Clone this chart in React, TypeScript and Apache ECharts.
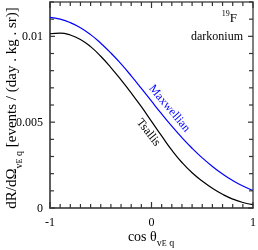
import React, { useEffect, useRef } from "react";
import * as echarts from "echarts";

const cosTheta = [-1, -0.9, -0.8, -0.7, -0.6, -0.5, -0.4, -0.3, -0.2, -0.1, 0, 0.1, 0.2, 0.3, 0.4, 0.5, 0.6, 0.7, 0.8, 0.9, 1];
const maxwellian = [0.0111, 0.011, 0.0108, 0.0105, 0.0101, 0.0096, 0.00903, 0.00839, 0.0077, 0.00697, 0.00622, 0.00548, 0.00477, 0.0041, 0.00348, 0.00292, 0.00242, 0.00198, 0.0016, 0.00128, 0.00102];
const tsallis = [0.01015, 0.01019, 0.01008, 0.00982, 0.0094, 0.00884, 0.00818, 0.00746, 0.0067, 0.0059, 0.00505, 0.0042, 0.00337, 0.00265, 0.00205, 0.00157, 0.00115, 0.0008, 0.00052, 0.00032, 0.0002];
const xTickLabels = [-1, 0, 1];
const yTickLabels = [0, 0.005, 0.01];
const xMin = -1, xMax = 1, yMin = 0, yMax = 0.012;
const xTicks = Array.from({ length: 21 }, (_, i) => Math.round((-1 + i * 0.1) * 10) / 10);
const yTicks = Array.from({ length: 13 }, (_, i) => i / 1000);

const SERIF = "'Liberation Serif', 'DejaVu Serif', serif";
const AXIS_COLOR = "#555";
const TICK_COLOR = "#333";

const richY = {
  m: { fontSize: 15, fontFamily: SERIF, fill: "#000", lineHeight: 24, verticalAlign: "middle" as const },
  s: { fontSize: 10, fontFamily: SERIF, fill: "#000", lineHeight: 14, verticalAlign: "bottom" as const },
  ss: { fontSize: 8, fontFamily: SERIF, fill: "#000", lineHeight: 9, verticalAlign: "bottom" as const },
};
const richX = {
  m: { fontSize: 14, fontFamily: SERIF, fill: "#000", lineHeight: 22, verticalAlign: "middle" as const },
  s: { fontSize: 10, fontFamily: SERIF, fill: "#000", lineHeight: 13, verticalAlign: "bottom" as const },
  ss: { fontSize: 8, fontFamily: SERIF, fill: "#000", lineHeight: 8, verticalAlign: "bottom" as const },
};

const near = (arr: number[], v: number, eps: number) => arr.some((t) => Math.abs(t - v) < eps);

export default function App() {
  const ref = useRef<HTMLDivElement>(null);
  useEffect(() => {
    if (!ref.current) return;
    const chart = echarts.init(ref.current, null, { renderer: "svg" });
    const tickFill = { fill: TICK_COLOR };
    const TW = 1.2;
    chart.setOption({
      animation: false,
      grid: {
        left: 50, right: 5, top: 2, bottom: 42,
        containLabel: false, outerBoundsMode: "none",
        show: true, borderColor: AXIS_COLOR, borderWidth: 1.5, backgroundColor: "transparent",
      },
      xAxis: {
        type: "value",
        min: xMin,
        max: xMax,
        interval: 1,
        axisLine: { show: true, onZero: false, lineStyle: { color: AXIS_COLOR, width: 1.5 } },
        axisTick: { show: false },
        splitLine: { show: false },
        axisLabel: {
          margin: 8,
          fontFamily: SERIF,
          fontSize: 12,
          color: "#000",
          formatter: (v: number) => (near(xTickLabels, v, 1e-9) ? String(v) : ""),
        },
      },
      yAxis: {
        type: "value",
        min: yMin,
        max: yMax,
        interval: 0.001,
        axisLine: { show: true, onZero: false, lineStyle: { color: AXIS_COLOR, width: 1.5 } },
        axisTick: { show: false },
        splitLine: { show: false },
        axisLabel: {
          margin: 7,
          fontFamily: SERIF,
          fontSize: 12,
          color: "#000",
          formatter: (v: number) => {
            const t = yTickLabels.find((y) => Math.abs(y - v) < 1e-9);
            return t === undefined ? "" : String(t);
          },
        },
      },
      series: [
        {
          name: "Maxwellian",
          type: "line",
          smooth: true,
          showSymbol: false,
          data: cosTheta.map((c, i) => [c, maxwellian[i]]),
          lineStyle: { color: "#0000ff", width: 1.2 },
          itemStyle: { color: "#0000ff" },
        },
        {
          name: "Tsallis",
          type: "line",
          smooth: true,
          showSymbol: false,
          data: cosTheta.map((c, i) => [c, tsallis[i]]),
          lineStyle: { color: "#000000", width: 1.2 },
          itemStyle: { color: "#000000" },
        },
        {
          type: "custom",
          silent: true,
          clip: false,
          z: 5,
          encode: { x: 0, y: 1 },
          data: xTicks.map((v) => [v, yMin]),
          renderItem: (_p: any, api: any) => {
            const v = api.value(0);
            const len = near(xTickLabels, v, 1e-6) ? 6 : 4;
            const b = api.coord([v, yMin]);
            const t = api.coord([v, yMax]);
            return {
              type: "group",
              children: [
                { type: "rect", shape: { x: b[0] - TW / 2, y: b[1] - len, width: TW, height: len }, style: tickFill },
                { type: "rect", shape: { x: t[0] - TW / 2, y: t[1], width: TW, height: len }, style: tickFill },
              ],
            };
          },
        },
        {
          type: "custom",
          silent: true,
          clip: false,
          z: 5,
          encode: { x: 0, y: 1 },
          data: yTicks.map((v) => [xMin, v]),
          renderItem: (_p: any, api: any) => {
            const v = api.value(1);
            const len = near(yTickLabels, v, 1e-7) ? 5 : 4;
            const l = api.coord([xMin, v]);
            const r = api.coord([xMax, v]);
            return {
              type: "group",
              children: [
                { type: "rect", shape: { x: l[0], y: l[1] - TW / 2, width: len, height: TW }, style: tickFill },
                { type: "rect", shape: { x: r[0] - len, y: r[1] - TW / 2, width: len, height: TW }, style: tickFill },
              ],
            };
          },
        },
      ],
      graphic: [
        {
          type: "text",
          x: 11,
          y: 108,
          rotation: Math.PI / 2,
          style: {
            text: "{m|dR/dΩ}{s|v}{ss|E}{s| q}{m| [events / (day . kg . sr)]}",
            align: "center",
            verticalAlign: "middle",
            rich: richY,
          },
        },
        {
          type: "text",
          x: 151,
          y: 236,
          style: {
            text: "{m|cos θ}{s|v}{ss|E}{s| q}",
            align: "center",
            verticalAlign: "middle",
            rich: richX,
          },
        },
        {
          type: "text",
          x: 170,
          y: 108,
          rotation: (-50 * Math.PI) / 180,
          style: { text: "Maxwellian", fill: "#0000ff", font: `12px ${SERIF}`, align: "center", verticalAlign: "middle" },
        },
        {
          type: "text",
          x: 149,
          y: 132,
          rotation: (-52 * Math.PI) / 180,
          style: { text: "Tsallis", fill: "#000", font: `12px ${SERIF}`, align: "center", verticalAlign: "middle" },
        },
        {
          type: "text",
          x: 237,
          y: 17,
          style: {
            text: "{sup|19}{m|F}",
            align: "right",
            verticalAlign: "middle",
            rich: {
              sup: { fontSize: 8, fontFamily: SERIF, fill: "#000", lineHeight: 16, verticalAlign: "top" },
              m: { fontSize: 13, fontFamily: SERIF, fill: "#000", lineHeight: 16, verticalAlign: "middle" },
            },
          },
        },
        {
          type: "text",
          x: 243,
          y: 36,
          style: { text: "darkonium", fill: "#000", font: `12px ${SERIF}`, align: "right", verticalAlign: "middle" },
        },
      ],
    });
    return () => chart.dispose();
  }, []);
  return <div ref={ref} style={{ position: "fixed", left: 0, top: 0, width: 258, height: 250 }} />;
}
